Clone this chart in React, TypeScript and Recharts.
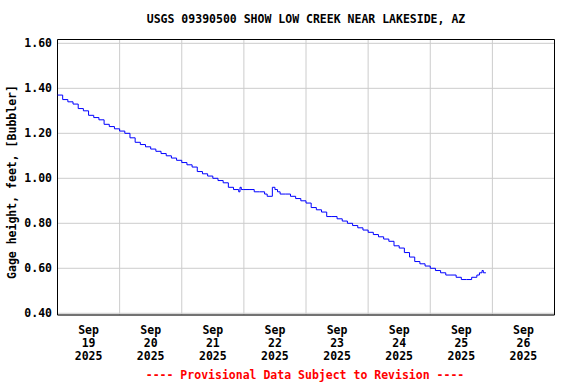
import { CartesianGrid, Line, LineChart, ReferenceArea, XAxis, YAxis } from 'recharts'

// hours since Sep 19 2025 00:00 and gage height (ft)
const hours = [
  0, 2, 4, 6, 8, 10, 12, 14, 16, 18, 20, 22,
  24, 26, 28, 30, 32, 34, 36, 38, 40, 42, 44, 46,
  48, 50, 52, 54, 56, 58, 60, 62, 64, 66, 68, 70, 70.5, 71,
  72, 74, 76, 78, 80, 81, 82.5, 83, 84, 85, 86, 88, 90, 92, 94,
  96, 98, 100, 102, 104, 106, 108, 110, 112, 114, 116, 118,
  120, 122, 124, 126, 128, 130, 132, 134, 136, 138, 140, 142,
  144, 146, 148, 150, 152, 154, 156, 158, 160, 162, 163, 164, 164.5, 165.5,
]
const gage = [
  1.37, 1.35, 1.34, 1.33, 1.31, 1.3, 1.28, 1.27, 1.26, 1.24, 1.23, 1.22,
  1.21, 1.2, 1.18, 1.16, 1.15, 1.14, 1.13, 1.12, 1.11, 1.1, 1.09, 1.08,
  1.07, 1.06, 1.05, 1.03, 1.02, 1.01, 1.0, 0.99, 0.98, 0.96, 0.95, 0.94, 0.96, 0.95,
  0.95, 0.95, 0.94, 0.94, 0.93, 0.92, 0.92, 0.96, 0.95, 0.94, 0.93, 0.93, 0.92, 0.91, 0.9,
  0.89, 0.87, 0.86, 0.85, 0.83, 0.83, 0.82, 0.81, 0.8, 0.79, 0.78, 0.77,
  0.76, 0.75, 0.74, 0.73, 0.72, 0.7, 0.69, 0.67, 0.65, 0.63, 0.62, 0.61,
  0.6, 0.59, 0.58, 0.57, 0.57, 0.56, 0.55, 0.55, 0.56, 0.57, 0.58, 0.59, 0.58, 0.58,
]

const days = ['19', '20', '21', '22', '23', '24', '25', '26']
const yTicks = [0.4, 0.6, 0.8, 1.0, 1.2, 1.4, 1.6]
const xTicks = [0, 24, 48, 72, 96, 120, 144, 168, 192]

const data = hours.map((h, i) => ({ h, v: gage[i] }))

const FONT = "'DejaVu Sans Mono', monospace"
const FS = 11.5
const PLOT_W = 497
const Y_MIN = 0.3924
const Y_MAX = 1.617

function XTick({ x, y, payload }: any) {
  const idx = payload.value / 24
  if (idx >= days.length) return null
  const cx = x + PLOT_W / 16
  return (
    <g fontFamily={FONT} fontSize={FS} fontWeight='bold' fill='#000' textAnchor='middle'>
      <text x={cx} y={y + 15} dominantBaseline='central'>Sep</text>
      <text x={cx} y={y + 28} dominantBaseline='central'>{days[idx]}</text>
      <text x={cx} y={y + 41} dominantBaseline='central'>2025</text>
    </g>
  )
}

function YTick({ x, y, payload }: any) {
  return (
    <text x={x - 5.5} y={y} dominantBaseline='central' textAnchor='end'
      fontFamily={FONT} fontSize={FS} fontWeight='bold' fill='#000'>
      {payload.value.toFixed(2)}
    </text>
  )
}

export default function App() {
  return (
    <div style={{ position: 'absolute', left: 0, top: 0, width: 576, height: 384, background: '#fff' }}>
      <LineChart width={576} height={384} data={data}
        margin={{ top: 39.5, right: 21.5, bottom: 0, left: 0 }}>
        <CartesianGrid stroke='#cccccc' />
        <XAxis dataKey='h' type='number' domain={[0, 192]} ticks={xTicks} interval={0}
          height={69} tickSize={0} tickMargin={0} axisLine={false} tick={<XTick />} />
        <YAxis type='number' domain={[Y_MIN, Y_MAX]} ticks={yTicks} interval={0} width={57.5}
          tickSize={0} tickMargin={0} axisLine={false} tick={<YTick />} allowDataOverflow />
        <ReferenceArea x1={0} x2={192} y1={Y_MIN} y2={Y_MAX} fill='none' fillOpacity={0}
          stroke='#000' strokeWidth={1} strokeOpacity={1} />
        <Line type='stepAfter' dataKey='v' stroke='#0000ff' strokeWidth={1}
          dot={false} isAnimationActive={false} />
      </LineChart>
      <svg width={576} height={384} style={{ position: 'absolute', left: 0, top: 0, pointerEvents: 'none' }}
        fontFamily={FONT} fontSize={FS} fontWeight='bold'>
        <text x={306} y={19} textAnchor='middle' dominantBaseline='central' fill='#000'>
          USGS 09390500 SHOW LOW CREEK NEAR LAKESIDE, AZ
        </text>
        <text x={12} y={182} textAnchor='middle' dominantBaseline='central' fill='#000'
          transform='rotate(-90 12 182)'>
          Gage height, feet, [Bubbler]
        </text>
        <text x={305} y={375} textAnchor='middle' dominantBaseline='central' fill='#ff0000'>
          ---- Provisional Data Subject to Revision ----
        </text>
      </svg>
    </div>
  )
}
